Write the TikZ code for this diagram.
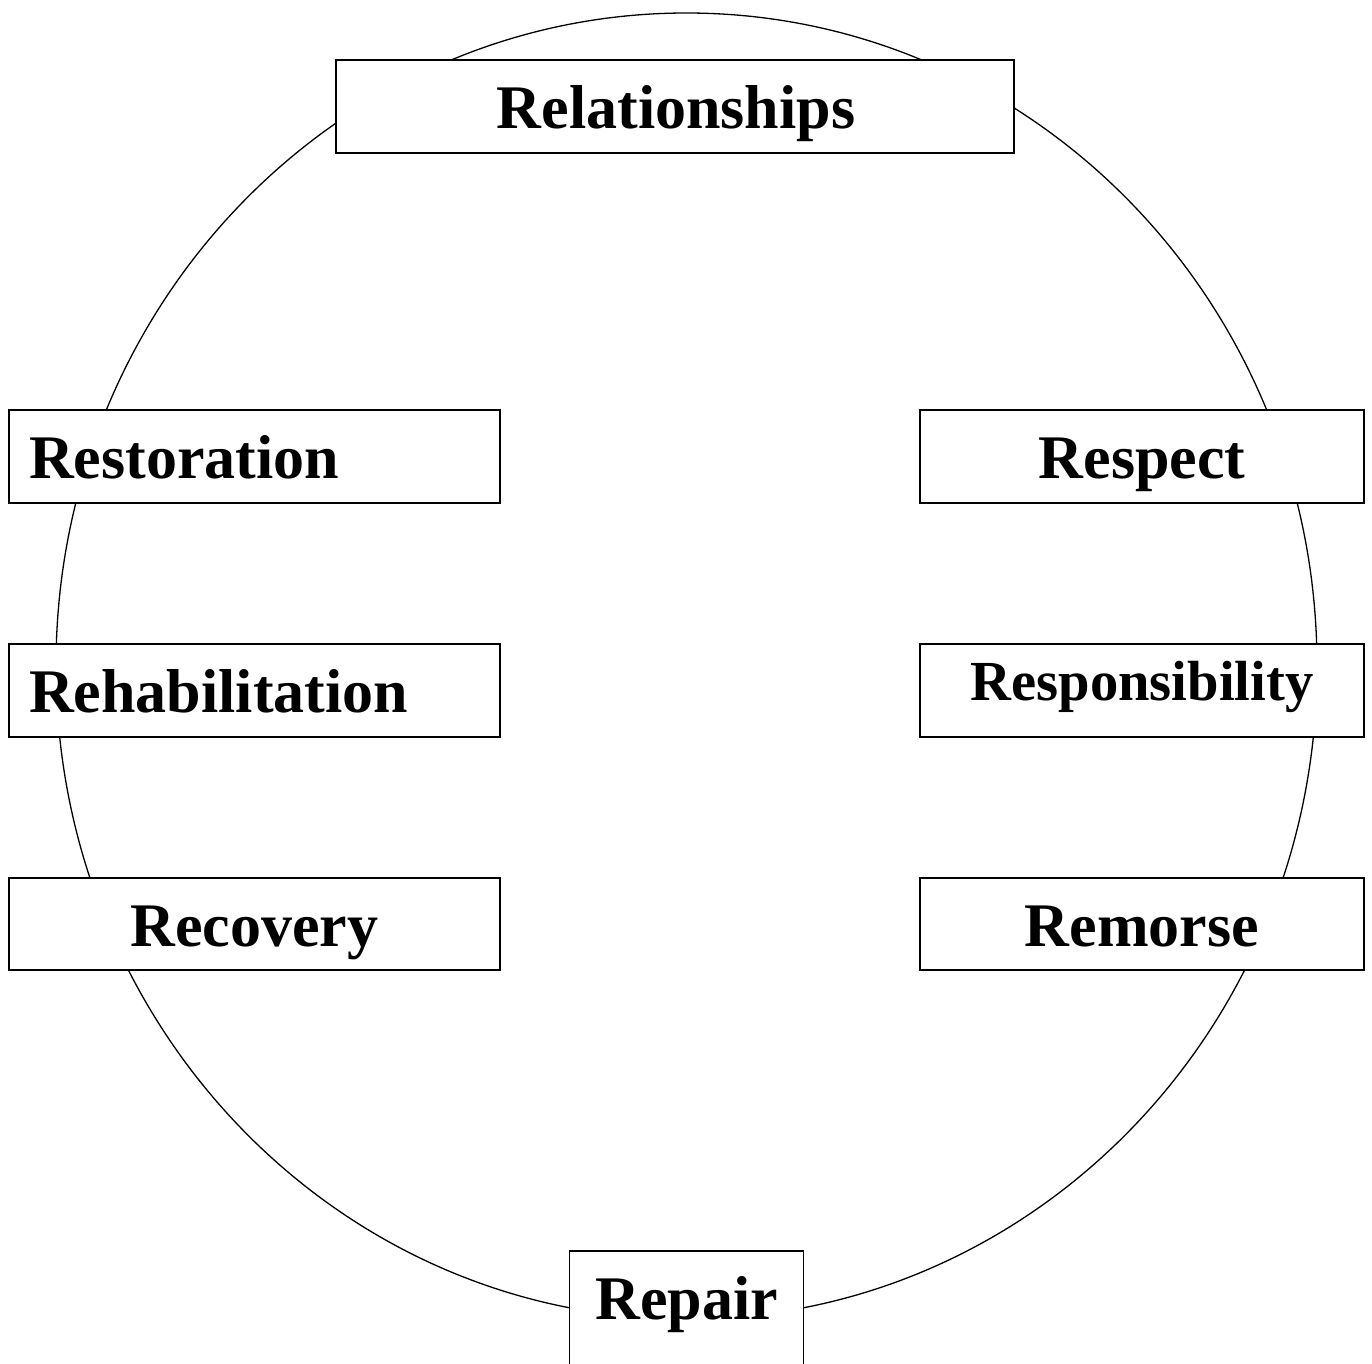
\documentclass[tikz,border=0pt]{standalone}
\usepackage{fontspec}
\setmainfont{Liberation Serif}
\begin{document}
\begin{tikzpicture}[x=1pt,y=-1pt,
  box/.style={draw, fill=white, line width=1.4pt, rectangle, inner sep=0pt, minimum height=93pt},
  lbl/.style={inner sep=0pt, font=\bfseries\fontsize{62}{70}\selectfont}]
\useasboundingbox (0,0) rectangle (1372,1363);
\clip (0,0) rectangle (1372,1363);
\fill[white] (0,0) rectangle (1372,1363);
\draw[line width=1.3pt] (686.5,666) ellipse [x radius=630.5pt, y radius=653pt];
% boxes
\node[box, minimum width=678pt] (brel) at (675,106.5) {};
\node[box, minimum width=491pt] (brest) at (254.5,456.5) {};
\node[box, minimum width=444pt] (bresp) at (1142,456.5) {};
\node[box, minimum width=491pt] (brehab) at (254.5,690.5) {};
\node[box, minimum width=444pt] (bresponsib) at (1142,690.5) {};
\node[box, minimum width=491pt, minimum height=92pt] (brecov) at (254.5,924) {};
\node[box, minimum width=444pt, minimum height=92pt] (bremorse) at (1142,924) {};
\node[box, minimum width=234pt, minimum height=170pt] (brepair) at (686.5,1336) {};
% labels
\node[lbl, anchor=base] (trel) at (676,128.5) {Relationships};
\node[lbl, anchor=base west] (trest) at (29,478.5) {Restoration};
\node[lbl, anchor=base] (tresp) at (1142,478.5) {Respect};
\node[lbl, anchor=base west] (trehab) at (29,712.5) {Rehabilitation};
\node[lbl, anchor=base, font=\bfseries\fontsize{56.6}{64}\selectfont] (tresponsib) at (1142,700.5) {Responsibility};
\node[lbl, anchor=base] (trecov) at (254.5,946.5) {Recovery};
\node[lbl, anchor=base] (tremorse) at (1142,946.5) {Remorse};
\node[lbl, anchor=base] (trepair) at (686.5,1319.5) {Repair};
\end{tikzpicture}
\end{document}
